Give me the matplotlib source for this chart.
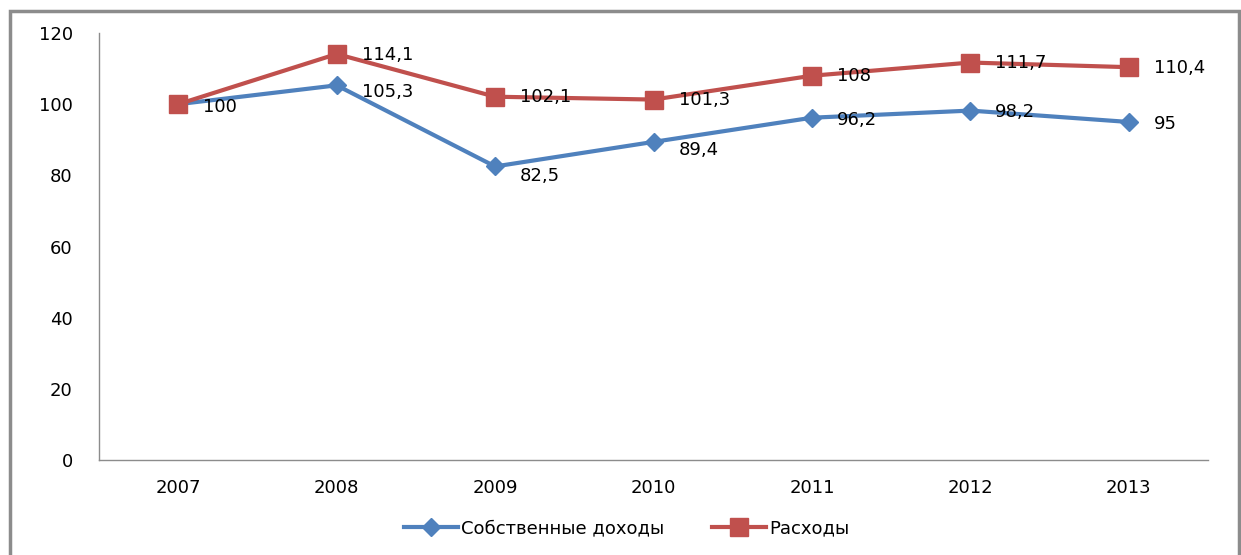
import matplotlib
matplotlib.use("Agg")
import matplotlib.pyplot as plt
from matplotlib.patches import Rectangle

years = ["2007", "2008", "2009", "2010", "2011", "2012", "2013"]
own_income = [100, 105.3, 82.5, 89.4, 96.2, 98.2, 95]
expenses = [100, 114.1, 102.1, 101.3, 108, 111.7, 110.4]
series_names = ["Собственные доходы", "Расходы"]

# vertical nudge of the value labels (points), as Excel placed them
own_dy = [-2, -5, -7, -6, -1.5, -1, -1.5]
exp_dy = [-2, -0.5, 0, 0, -0.5, 0, -0.5]


def fmt(v):
    s = f"{v:g}"
    return s.replace(".", ",")


def main():
    plt.rcParams["font.family"] = ["DejaVu Sans"]
    fig = plt.figure(figsize=(12.41, 5.55), dpi=100)
    ax = fig.add_axes([0.0798, 0.1712, 0.8936, 0.7693])

    x = list(range(len(years)))
    ax.plot(x, own_income, color="#4F81BD", lw=3, marker="D", ms=9,
            label=series_names[0], zorder=3)
    ax.plot(x, expenses, color="#C0504D", lw=3, marker="s", ms=13,
            label=series_names[1], zorder=3)

    for xi, v in zip(x, own_income):
        ax.annotate(fmt(v), (xi, v), xytext=(18, own_dy[xi]), textcoords="offset points",
                    ha="left", va="center", fontsize=13, zorder=4)
    for xi, v in zip(x, expenses):
        if xi == 0:
            continue  # same label as the blue one, drawn on top of it
        ax.annotate(fmt(v), (xi, v), xytext=(18, exp_dy[xi]), textcoords="offset points",
                    ha="left", va="center", fontsize=13, zorder=4)

    ax.set_xlim(-0.5, len(years) - 0.5)
    ax.set_ylim(0, 120)
    ax.set_yticks(range(0, 121, 20))
    ax.set_xticks(x)
    ax.set_xticklabels(years)
    ax.tick_params(axis="both", length=0, labelsize=13)
    ax.tick_params(axis="y", pad=19)
    ax.tick_params(axis="x", pad=14)
    for side in ["top", "right"]:
        ax.spines[side].set_visible(False)
    for side in ["left", "bottom"]:
        ax.spines[side].set_color("#8C8C8C")
        ax.spines[side].set_linewidth(1)

    fig.legend(loc="center", bbox_to_anchor=(0.505, 0.048), ncol=2, frameon=False,
               fontsize=13, handlelength=3.0, columnspacing=2.6, handletextpad=0.2)

    fig.patches.append(Rectangle((10 / 1241, -0.05), 1229 / 1241, 1.05 - 11 / 555,
                                 transform=fig.transFigure, fill=False,
                                 edgecolor="#8C8C8C", lw=2.5))

    fig.savefig("out.png", dpi=100)


if __name__ == "__main__":
    main()
